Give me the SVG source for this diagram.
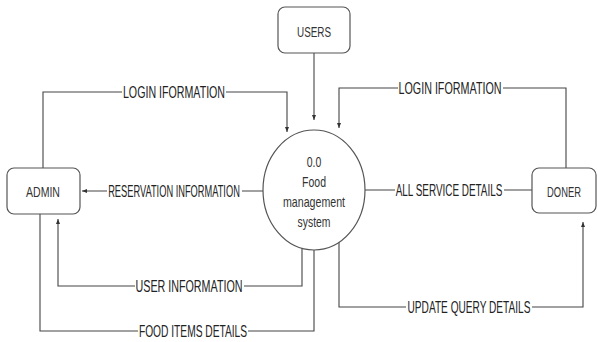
<svg xmlns="http://www.w3.org/2000/svg" width="598" height="342" viewBox="0 0 598 342">
  <style>
    .box { fill: #ffffff; stroke: #555555; stroke-width: 1.2; }
    .flow { fill: none; stroke: #444444; stroke-width: 1.1; }
    .node-text { font-family: "Liberation Sans", Arial, sans-serif; font-size: 14px; fill: #333333; text-anchor: middle; }
    .label { font-family: "Liberation Sans", Arial, sans-serif; font-size: 16px; fill: #222222; text-anchor: middle; }
    .label-bg { fill: #ffffff; }
  </style>
  <defs>
    <marker id="arrow" viewBox="0 0 10 10" refX="10" refY="5" markerWidth="5" markerHeight="5" orient="auto" markerUnits="userSpaceOnUse">
      <path d="M0,1 L10,5 L0,9 z" fill="#333333"/>
    </marker>
  </defs>
  <rect width="598" height="342" fill="#ffffff"/>

  <!-- data flows -->
  <g id="connectors">
    <path class="flow" d="M314,53 V120" marker-end="url(#arrow)"/>
    <path class="flow" d="M43,168 V92 H287 V132" marker-end="url(#arrow)"/>
    <path class="flow" d="M263,191 H82" marker-end="url(#arrow)"/>
    <path class="flow" d="M566,168 V88 H339 V128" marker-end="url(#arrow)"/>
    <path class="flow" d="M365,190 H532"/>
    <path class="flow" d="M302,248 V286 H58 V219" marker-end="url(#arrow)"/>
    <path class="flow" d="M314,250 V331 H40 V214"/>
    <path class="flow" d="M339,242 V307 H583 V222" marker-end="url(#arrow)"/>

    <!-- flow labels sit on a white patch that breaks the line; condensed horizontally -->
    <rect class="label-bg" x="122" y="84" width="104" height="15"/>
    <text class="label" transform="translate(174 97.5) scale(0.666 1)">LOGIN IFORMATION</text>
    <rect class="label-bg" x="107" y="183" width="135" height="15"/>
    <text class="label" transform="translate(174 196.5) scale(0.58 1)">RESERVATION INFORMATION</text>
    <rect class="label-bg" x="398" y="80" width="105" height="15"/>
    <text class="label" transform="translate(450 93.5) scale(0.672 1)">LOGIN IFORMATION</text>
    <rect class="label-bg" x="395" y="182" width="109" height="15"/>
    <text class="label" transform="translate(449 195.5) scale(0.62 1)">ALL SERVICE DETAILS</text>
    <rect class="label-bg" x="135" y="278" width="109" height="15"/>
    <text class="label" transform="translate(189 291.5) scale(0.671 1)">USER INFORMATION</text>
    <rect class="label-bg" x="138" y="323" width="110" height="15"/>
    <text class="label" transform="translate(193 336.5) scale(0.639 1)">FOOD ITEMS DETAILS</text>
    <rect class="label-bg" x="406" y="299" width="126" height="15"/>
    <text class="label" transform="translate(469 312.5) scale(0.633 1)">UPDATE QUERY DETAILS</text>
  </g>

  <g id="users">
    <rect class="box" x="278" y="7" width="72" height="46" rx="7"/>
    <text class="node-text" transform="translate(314 37) scale(0.705 1)">USERS</text>
  </g>

  <g id="admin">
    <rect class="box" x="7" y="168" width="73" height="46" rx="7"/>
    <text class="node-text" transform="translate(43 197) scale(0.754 1)">ADMIN</text>
  </g>

  <g id="doner">
    <rect class="box" x="532" y="168" width="64" height="45" rx="7"/>
    <text class="node-text" transform="translate(564 197) scale(0.672 1)">DONER</text>
  </g>

  <g id="process">
    <ellipse class="box" cx="314" cy="190" rx="51" ry="60"/>
    <text class="node-text" transform="translate(314 167) scale(0.75 1)">0.0</text>
    <text class="node-text" transform="translate(314 187) scale(0.75 1)">Food</text>
    <text class="node-text" transform="translate(314 207) scale(0.76 1)">management</text>
    <text class="node-text" transform="translate(314 227) scale(0.74 1)">system</text>
  </g>
</svg>
